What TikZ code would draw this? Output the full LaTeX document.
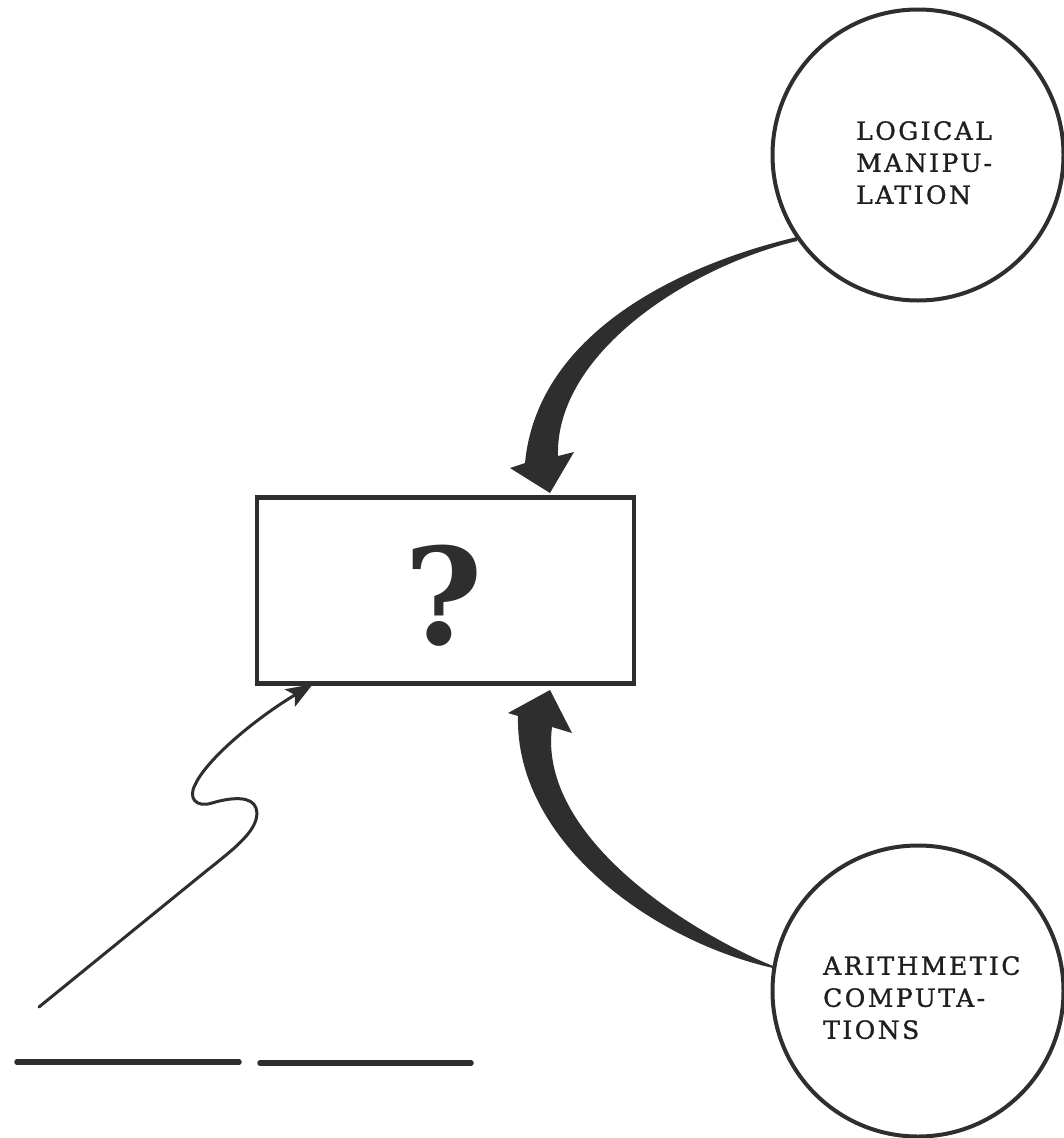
\documentclass[tikz,border=0pt]{standalone}
\usepackage{fontspec}
\setmainfont{DejaVu Serif}
\newfontfamily\labelfont[LetterSpace=10,FakeBold=1.2]{DejaVu Serif}
\newfontfamily\qfont{DejaVu Serif}
\usetikzlibrary{arrows.meta}
\definecolor{ink}{HTML}{2E2E2E}
\begin{document}
\begin{tikzpicture}[x=1pt,y=-1pt,
  ring/.style={circle,draw=ink,line width=4pt,minimum size=291pt,inner sep=0pt},
  qbox/.style={rectangle,draw=ink,line width=4.5pt,minimum width=377pt,minimum height=186pt,inner sep=0pt},
  lbl/.style={anchor=north west,inner sep=0pt,align=left,font=\labelfont\fontsize{25}{32}\selectfont,text=black!88},
  fat/.style={fill=ink},
  thinline/.style={draw=ink,line width=3pt,line cap=round},
  underline/.style={draw=ink,line width=5.5pt,line cap=round}]
\useasboundingbox (0,0) rectangle (1064,1138);
\fill[white] (0,0) rectangle (1064,1138);
% circles and labels
\node[ring] (logic) at (918,155) {};
\node[ring] (arith) at (918,991) {};
\node[lbl] (logictext) at (856,121) {LOGICAL\\MANIPU-\\LATION};
\node[lbl] (arithtext) at (823,956) {ARITHMETIC\\COMPUTA-\\TIONS};
% box with question mark
\node[qbox] (box) at (445.5,590.5) {};
\node[font=\qfont\bfseries\fontsize{134}{134}\selectfont,text=ink,inner sep=0pt] (q) at (444,596) {?};
% thick arrow from LOGICAL MANIPULATION to the box
\coordinate (ltail) at (797,239);
\coordinate (ltip) at (550,493);
\fill[fat] (797,237) .. controls (690,262) and (538,328) .. (525,463)
  -- (510,468) -- (ltip) -- (574,452) -- (558,456)
  .. controls (555,355) and (685,268) .. (797,241) -- cycle;
% thick arrow from ARITHMETIC COMPUTATIONS to the box
\coordinate (atail) at (773,967);
\coordinate (atip) at (550,690);
\fill[fat] (773,968) .. controls (650,940) and (515,840) .. (518,716)
  -- (508,713) -- (atip) -- (572,733) -- (552,727)
  .. controls (538,835) and (685,930) .. (773,966) -- cycle;
% squiggly arrow
\coordinate (s0) at (39,1007);
\coordinate (s1) at (313,684);
\draw[thinline,-{Stealth[length=27pt,width=20pt,inset=6pt]}] (s0) -- (205,872)
  .. controls (235,848) and (262,828) .. (256,808)
  .. controls (252,796) and (232,797) .. (212,803)
  .. controls (196,808) and (188,798) .. (195,785)
  .. controls (205,762) and (250,722) .. (s1);
% blank lines
\coordinate (u1a) at (17,1062);
\coordinate (u1b) at (239,1062);
\coordinate (u2a) at (260,1063);
\coordinate (u2b) at (471,1063);
\draw[underline] (u1a) -- (u1b);
\draw[underline] (u2a) -- (u2b);
\end{tikzpicture}
\end{document}
